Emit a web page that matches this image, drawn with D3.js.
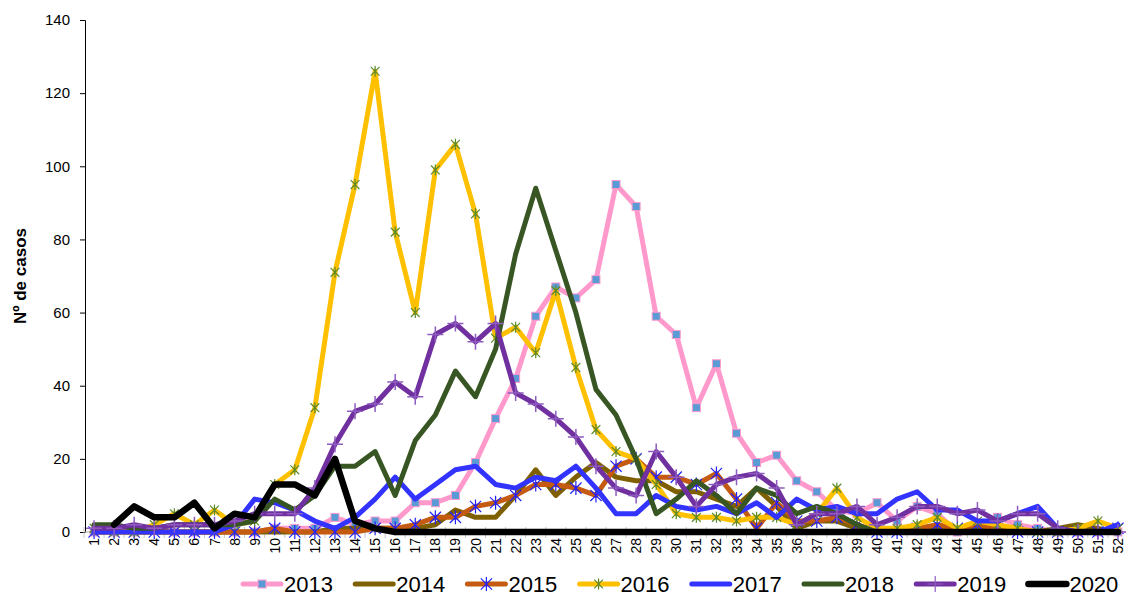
<!DOCTYPE html>
<html>
<head>
<meta charset="utf-8">
<script src="https://cdn.jsdelivr.net/npm/d3@7"></script>
<style>
  body { margin: 0; background: #fff; }
  text { font-family: "Liberation Sans", Arial, sans-serif; }
</style>
</head>
<body>
<div id="chart"></div>
<script>
// weeks 1..52
var weeks = d3.range(1, 53)
var years = ["2013", "2014", "2015", "2016", "2017", "2018", "2019", "2020"]
var yTicks = [0, 20, 40, 60, 80, 100, 120, 140]

var s2013 = [0,0,0,1,0,0,0,0,0,1,1,1,4,2,3,3,8,8,10,19,31,42,59,67,64,69,95,89,59,54,34,46,27,19,21,14,11,6,5,8,3,7,5,0,2,4,2,1,0,0,0,0]
var s2014 = [0,0,0,0,0,0,0,0,0,0,0,0,1,1,1,1,1,2,6,4,4,10,17,10,15,19,15,14,14,11,11,9,7,12,7,1,3,3,1,1,0,1,1,0,1,1,0,0,1,2,1,0]
var s2015 = [0,0,0,0,0,0,0,0,0,1,0,0,0,0,1,1,2,4,4,7,8,10,13,13,12,10,18,20,15,15,13,16,9,1,8,3,3,4,2,0,0,1,2,1,2,1,0,0,0,0,0,1]
var s2016 = [1,0,0,2,5,2,6,2,3,13,17,34,71,95,126,82,60,99,106,87,53,56,49,66,45,28,22,20,13,5,4,4,3,4,4,2,5,12,4,1,1,2,4,1,3,2,1,0,0,1,3,1]
var s2017 = [0,0,0,0,0,0,0,2,9,8,6,3,1,4,9,15,9,13,17,18,13,12,15,14,18,12,5,5,10,7,6,7,5,8,4,9,6,7,5,5,9,11,6,6,3,3,5,7,1,0,0,2]
var s2018 = [2,2,1,1,2,2,2,2,3,9,6,10,18,18,22,10,25,32,44,37,50,76,94,77,60,39,32,20,5,9,14,10,5,12,10,5,7,5,2,0,0,0,0,0,0,0,0,0,0,0,0,0]
var s2019 = [1,1,2,1,2,2,2,3,5,5,5,12,24,33,35,41,37,54,57,52,57,38,35,31,26,18,12,10,22,15,7,13,15,16,12,2,5,5,7,2,4,7,7,5,6,3,5,5,1,0,0,0]
var s2020 = [null,2,7,4,4,8,1,5,4,13,13,10,20,3,1,0,0,0,0,0,0,0,0,0,0,0,0,0,0,0,0,0,0,0,0,0,0,0,0,0,0,0,0,0,0,0,0,0,0,0,0,0]

var seriesList = [s2013, s2014, s2015, s2016, s2017, s2018, s2019, s2020]
var lineColors = ["#FF99CC", "#7F6000", "#C55A11", "#FFC000", "#3333FF", "#375623", "#7030A0", "#000000"]
var lineWidths = [5, 5, 5, 5, 5, 5, 5, 6.5]
var markers = ["square", null, "asterisk", "star", null, null, "plus", null]

var width = 1126, height = 599

let svg = d3.select("#chart")
  .append("svg")
  .attr("width", width)
  .attr("height", height)

var x = d3.scaleBand().domain(weeks).range([84, 1128])
var cx = d => x(d) + x.bandwidth() / 2
var y = d3.scaleLinear().domain([0, 140]).range([532, 20])

// y axis
let yAxis = svg.append("g")
  .attr("transform", "translate(85,0)")
  .call(d3.axisLeft(y).tickValues(yTicks).tickSize(5).tickPadding(10))
yAxis.selectAll("text").style("font-size", "15px").attr("fill", "#000")
yAxis.selectAll("line").attr("stroke", "#000")
yAxis.select(".domain").attr("stroke", "#000")

svg.append("text")
  .attr("transform", "translate(26,276) rotate(-90)")
  .attr("text-anchor", "middle")
  .style("font-size", "17px")
  .style("font-weight", "bold")
  .text("Nº de casos")

// x axis: grey ticks at category edges, rotated labels
var edges = weeks.map(d => x(d)).concat([x(52) + x.bandwidth()])
svg.append("g").selectAll("line")
  .data(edges)
  .enter()
  .append("line")
  .attr("x1", d => d).attr("x2", d => d)
  .attr("y1", 527).attr("y2", 538)
  .attr("stroke", "#c8c8c8")
  .attr("stroke-width", 1)

svg.append("line")
  .attr("x1", 85).attr("x2", width)
  .attr("y1", y(0)).attr("y2", y(0))
  .attr("stroke", "#b0b0b0")

svg.append("g").selectAll("text")
  .data(weeks)
  .enter()
  .append("text")
  .attr("transform", d => `translate(${cx(d) + 5},538) rotate(-90)`)
  .attr("text-anchor", "end")
  .style("font-size", "14px")
  .text(d => d)

// lines
var line = d3.line()
  .defined(d => d.v !== null)
  .x(d => cx(d.w))
  .y(d => y(d.v))

function markerPath(type, s) {
  var p = d3.path()
  if (type === "asterisk" || type === "star") {
    p.moveTo(0, -s); p.lineTo(0, s)
    p.moveTo(-s * 0.8, -s * 0.8); p.lineTo(s * 0.8, s * 0.8)
    p.moveTo(-s * 0.8, s * 0.8); p.lineTo(s * 0.8, -s * 0.8)
  } else if (type === "plus") {
    p.moveTo(0, -s); p.lineTo(0, s)
    p.moveTo(-s, 0); p.lineTo(s, 0)
  }
  return p.toString()
}

seriesList.forEach(function(vals, i) {
  var pts = weeks.map((w, k) => ({w: w, v: vals[k]}))
  let g = svg.append("g").attr("class", "series-" + years[i])
  g.append("path")
    .datum(pts)
    .attr("d", line)
    .attr("fill", "none")
    .attr("stroke", lineColors[i])
    .attr("stroke-width", lineWidths[i])
    .attr("stroke-linejoin", "round")
    .attr("stroke-linecap", "round")

  var m = markers[i]
  if (!m) return
  var valid = pts.filter(d => d.v !== null)
  if (m === "square") {
    g.selectAll("rect").data(valid).enter().append("rect")
      .attr("x", d => cx(d.w) - 4).attr("y", d => y(d.v) - 4)
      .attr("width", 8).attr("height", 8)
      .attr("fill", "#5B9BD5").attr("stroke", "#FF99CC").attr("stroke-width", 1)
  } else {
    var mc = m === "asterisk" ? "#2020FF" : m === "star" ? "#5B8A2A" : "#8E5CC0"
    var ms = m === "asterisk" ? 7 : m === "star" ? 5.5 : 8
    g.selectAll("path.mk").data(valid).enter().append("path")
      .attr("class", "mk")
      .attr("transform", d => `translate(${cx(d.w)},${y(d.v)})`)
      .attr("d", markerPath(m, ms))
      .attr("stroke", mc).attr("stroke-width", m === "plus" ? 1.5 : 1.2)
      .attr("fill", "none")
  }
})

// legend
let legend = svg.append("g")
years.forEach(function(yr, i) {
  var lx = 243 + i * 112.2, ly = 584
  let item = legend.append("g")
  item.append("line")
    .attr("x1", lx).attr("x2", lx + 38)
    .attr("y1", ly).attr("y2", ly)
    .attr("stroke", lineColors[i])
    .attr("stroke-width", lineWidths[i])
    .attr("stroke-linecap", "round")
  var m = markers[i], mx = lx + 19
  if (m === "square") {
    item.append("rect").attr("x", mx - 4).attr("y", ly - 4).attr("width", 8).attr("height", 8)
      .attr("fill", "#5B9BD5").attr("stroke", "#FF99CC")
  } else if (m) {
    var mc = m === "asterisk" ? "#2020FF" : m === "star" ? "#5B8A2A" : "#8E5CC0"
    var ms = m === "asterisk" ? 7 : m === "star" ? 5.5 : 8
    item.append("path").attr("transform", `translate(${mx},${ly})`)
      .attr("d", markerPath(m, ms)).attr("stroke", mc).attr("stroke-width", 1.2).attr("fill", "none")
  }
  item.append("text")
    .attr("x", lx + 41).attr("y", ly + 8)
    .style("font-size", "22px")
    .text(yr)
})
</script>
</body>
</html>
